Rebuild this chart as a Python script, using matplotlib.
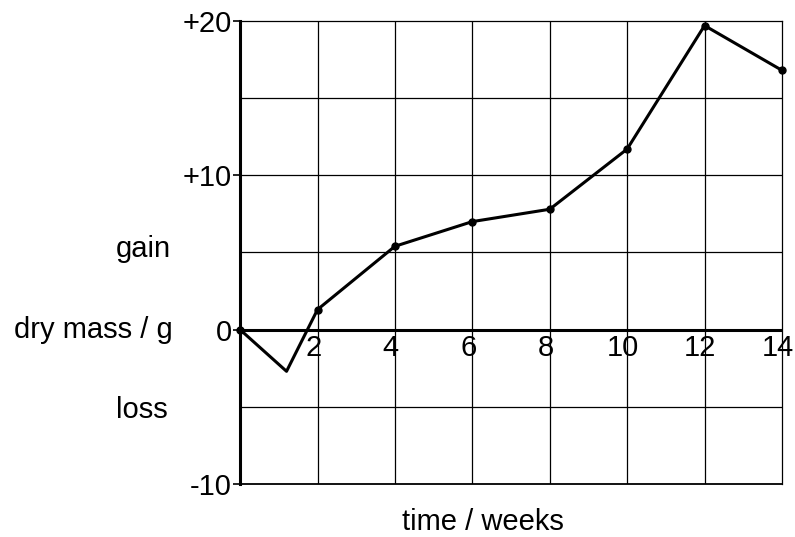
import matplotlib
matplotlib.use("Agg")
from matplotlib import pyplot as plt

plt.rcParams['font.family'] = ['Liberation Sans', 'DejaVu Sans']

# measured points (dots)
weeks = [0, 2, 4, 6, 8, 10, 12, 14]
dry_mass = [0, 1.3, 5.4, 7.0, 7.8, 11.7, 19.7, 16.8]
# unmarked dip drawn in the line between week 0 and week 2
dip_week = 1.2
dip_mass = -2.7

y_ticks = [-10, 0, 10, 20]
y_tick_labels = ["-10", "0", "+10", "+20"]
x_labels = [2, 4, 6, 8, 10, 12, 14]

FS = 21

fig = plt.figure(figsize=(7.95, 5.37), dpi=100)
ax = fig.add_axes([0.302, 0.0987, 0.6816, 0.8623])

line_x = [weeks[0], dip_week] + weeks[1:]
line_y = [dry_mass[0], dip_mass] + dry_mass[1:]
ax.plot(line_x, line_y, color="black", lw=2.2, zorder=4, clip_on=False)
ax.plot(weeks, dry_mass, "o", color="black", ms=5, zorder=5, clip_on=False)

ax.set_xlim(0, 14)
ax.set_ylim(-10, 20)

# grid
for x in range(2, 14, 2):
    ax.axvline(x, color="black", lw=0.9, zorder=1)
for y in range(-5, 20, 5):
    if y != 0:
        ax.axhline(y, color="black", lw=0.9, zorder=1)
ax.axhline(0, color="black", lw=2.2, zorder=3)

ax.spines["top"].set_linewidth(0.9)
ax.spines["right"].set_linewidth(0.9)
ax.spines["left"].set_linewidth(2.2)
ax.spines["bottom"].set_linewidth(1.3)

ax.set_xticks([])
ax.set_yticks(y_ticks)
ax.set_yticklabels(y_tick_labels, fontsize=FS)
ax.tick_params(axis="y", length=5, width=1.2, pad=1)

for x in x_labels:
    ax.annotate(str(x), (x, 0), xytext=(-3, -3), textcoords="offset points",
                ha="center", va="top", fontsize=FS)

lab = ax.get_yaxis_transform()
ax.text(-0.125, 0, "dry mass / g", transform=lab, ha="right", va="center", fontsize=FS)
ax.text(-0.128, 5.2, "gain", transform=lab, ha="right", va="center", fontsize=FS)
ax.text(-0.134, -5.2, "loss", transform=lab, ha="right", va="center", fontsize=FS)
fig.text(0.607, 0.028, "time / weeks", ha="center", va="center", fontsize=FS)

fig.savefig("out.png", dpi=100)
